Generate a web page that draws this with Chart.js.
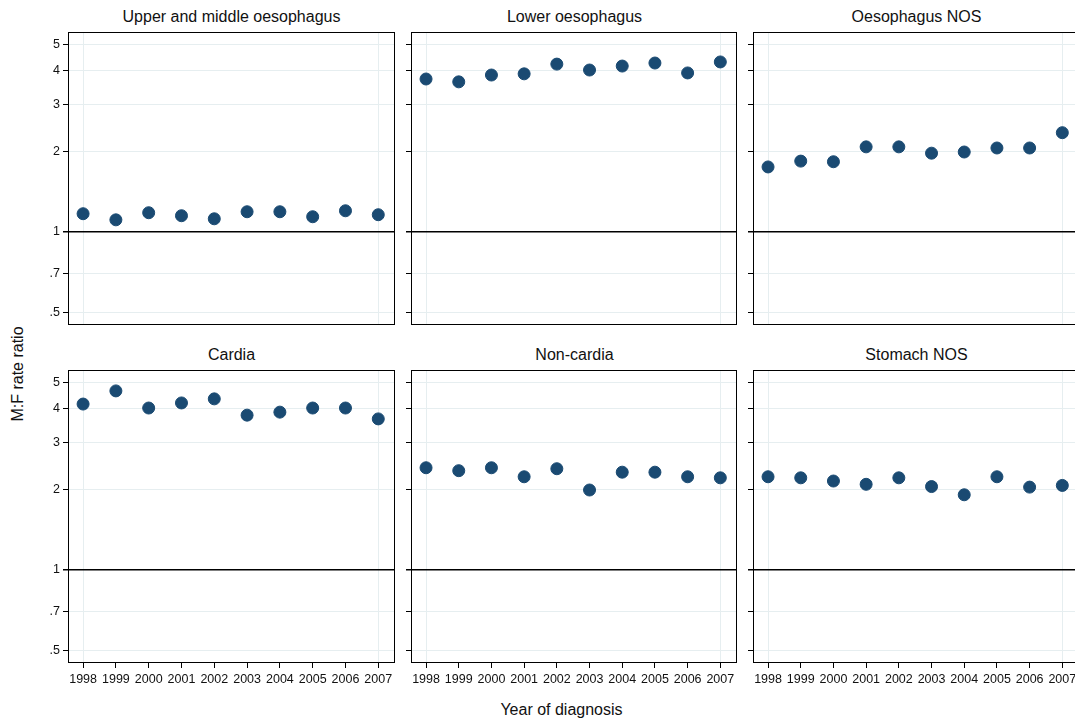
<!DOCTYPE html>
<html><head><meta charset="utf-8">
<script src="https://cdn.jsdelivr.net/npm/chart.js@4/dist/chart.umd.min.js"></script>
<style>
body{margin:0;width:1075px;height:719px;overflow:hidden;background:#fff;position:relative;font-family:"Liberation Sans",Arial,sans-serif}
canvas{position:absolute}
.t{position:absolute;font-size:16px;text-align:center;color:#111}
</style></head><body>
<div class="t" style="left:-82px;top:365px;transform:rotate(-90deg);width:200px;">M:F rate ratio</div>
<div class="t" style="left:58px;width:1007px;top:701px;">Year of diagnosis</div>
<script>
// ===== data =====
const years = [1998, 1999, 2000, 2001, 2002, 2003, 2004, 2005, 2006, 2007];
const yTicks = [0.5, 0.7, 1, 2, 3, 4, 5];
const titles = ["Upper and middle oesophagus", "Lower oesophagus", "Oesophagus NOS", "Cardia", "Non-cardia", "Stomach NOS"];
const upperMiddle = [1.17, 1.11, 1.18, 1.15, 1.12, 1.19, 1.19, 1.14, 1.20, 1.16];
const lowerOes = [3.73, 3.64, 3.86, 3.90, 4.24, 4.03, 4.17, 4.28, 3.93, 4.32];
const oesNOS = [1.75, 1.84, 1.83, 2.08, 2.08, 1.97, 1.99, 2.06, 2.06, 2.35];
const cardia = [4.17, 4.67, 4.03, 4.21, 4.36, 3.79, 3.89, 4.03, 4.03, 3.67];
const nonCardia = [2.41, 2.35, 2.41, 2.23, 2.39, 1.99, 2.32, 2.32, 2.23, 2.21];
const stomachNOS = [2.23, 2.21, 2.15, 2.09, 2.21, 2.05, 1.91, 2.23, 2.04, 2.07];
const series = [upperMiddle, lowerOes, oesNOS, cardia, nonCardia, stomachNOS];

const frame = {
  id: "frame",
  afterDraw(c) {
    const a = c.chartArea, ctx = c.ctx;
    ctx.save(); ctx.strokeStyle = "#000"; ctx.lineWidth = 1;
    ctx.strokeRect(a.left + 0.5, a.top + 0.5, a.right - a.left - 1, a.bottom - a.top - 1);
    ctx.restore();
  }
};

series.forEach((vals, i) => {
  const col = i % 3, row = Math.floor(i / 3);
  const left = col === 0;
  const bottom = row === 1;
  const cv = document.createElement("canvas");
  const cx = [30, 400, 742][col];
  const cw = left ? 365 : 337;
  const top = row === 0 ? 32 : 370;
  const ch = bottom ? 323 : 293;
  cv.style.left = cx + "px"; cv.style.top = top + "px";
  cv.style.width = cw + "px"; cv.style.height = ch + "px";
  document.body.appendChild(cv);
  const t = document.createElement("div");
  t.className = "t";
  t.textContent = titles[i];
  t.style.left = (cx + (left ? 38 : 11)) + "px";
  t.style.width = "327px";
  t.style.top = (top - 24) + "px";
  document.body.appendChild(t);

  new Chart(cv, {
    type: "scatter",
    data: { datasets: [{ data: years.map((y, k) => ({ x: y, y: vals[k] })),
      backgroundColor: "#1a4a72", borderColor: "#1a4a72", pointRadius: 6, pointHoverRadius: 6 }] },
    options: {
      responsive: false, animation: false, devicePixelRatio: 1,
      layout: { padding: 0, autoPadding: false },
      plugins: { legend: { display: false }, tooltip: { enabled: false } },
      scales: {
        x: {
          type: "linear", min: 1997.54, max: 2007.51,
          afterBuildTicks: s => { s.ticks = years.map(v => ({ value: v })); },
          afterFit: s => { s.height = bottom ? 30 : 0; s.paddingLeft = 0; s.paddingRight = 0; },
          border: { display: false },
          grid: {
            color: ctx => (ctx.index === 0 || ctx.index === years.length - 1) ? "#e6eef0" : "rgba(255,255,255,0)",
            drawTicks: bottom, tickLength: 5, tickColor: "#000"
          },
          ticks: { display: bottom, color: "#111", font: { size: 12.5, family: "Liberation Sans" }, maxRotation: 0, autoSkip: false,
            callback: v => String(v), padding: 4 }
        },
        y: {
          type: "logarithmic", min: 0.449, max: 5.59,
          afterBuildTicks: s => { s.ticks = yTicks.map(v => ({ value: v })); },
          afterFit: s => { s.width = left ? 38 : 11; s.paddingTop = 0; s.paddingBottom = 0; },
          border: { display: false },
          grid: {
            color: ctx => ctx.tick && ctx.tick.value === 1 ? "#000" : "#e6eef0",
            lineWidth: ctx => ctx.tick && ctx.tick.value === 1 ? 1.5 : 1,
            drawTicks: true, tickLength: 5, tickColor: "#000"
          },
          ticks: { display: left, color: "#111", font: { size: 12.5, family: "Liberation Sans" }, autoSkip: false,
            callback: v => v < 1 ? String(v).replace("0.", ".") : String(v) }
        }
      }
    },
    plugins: [frame]
  });
});
</script>
</body></html>
